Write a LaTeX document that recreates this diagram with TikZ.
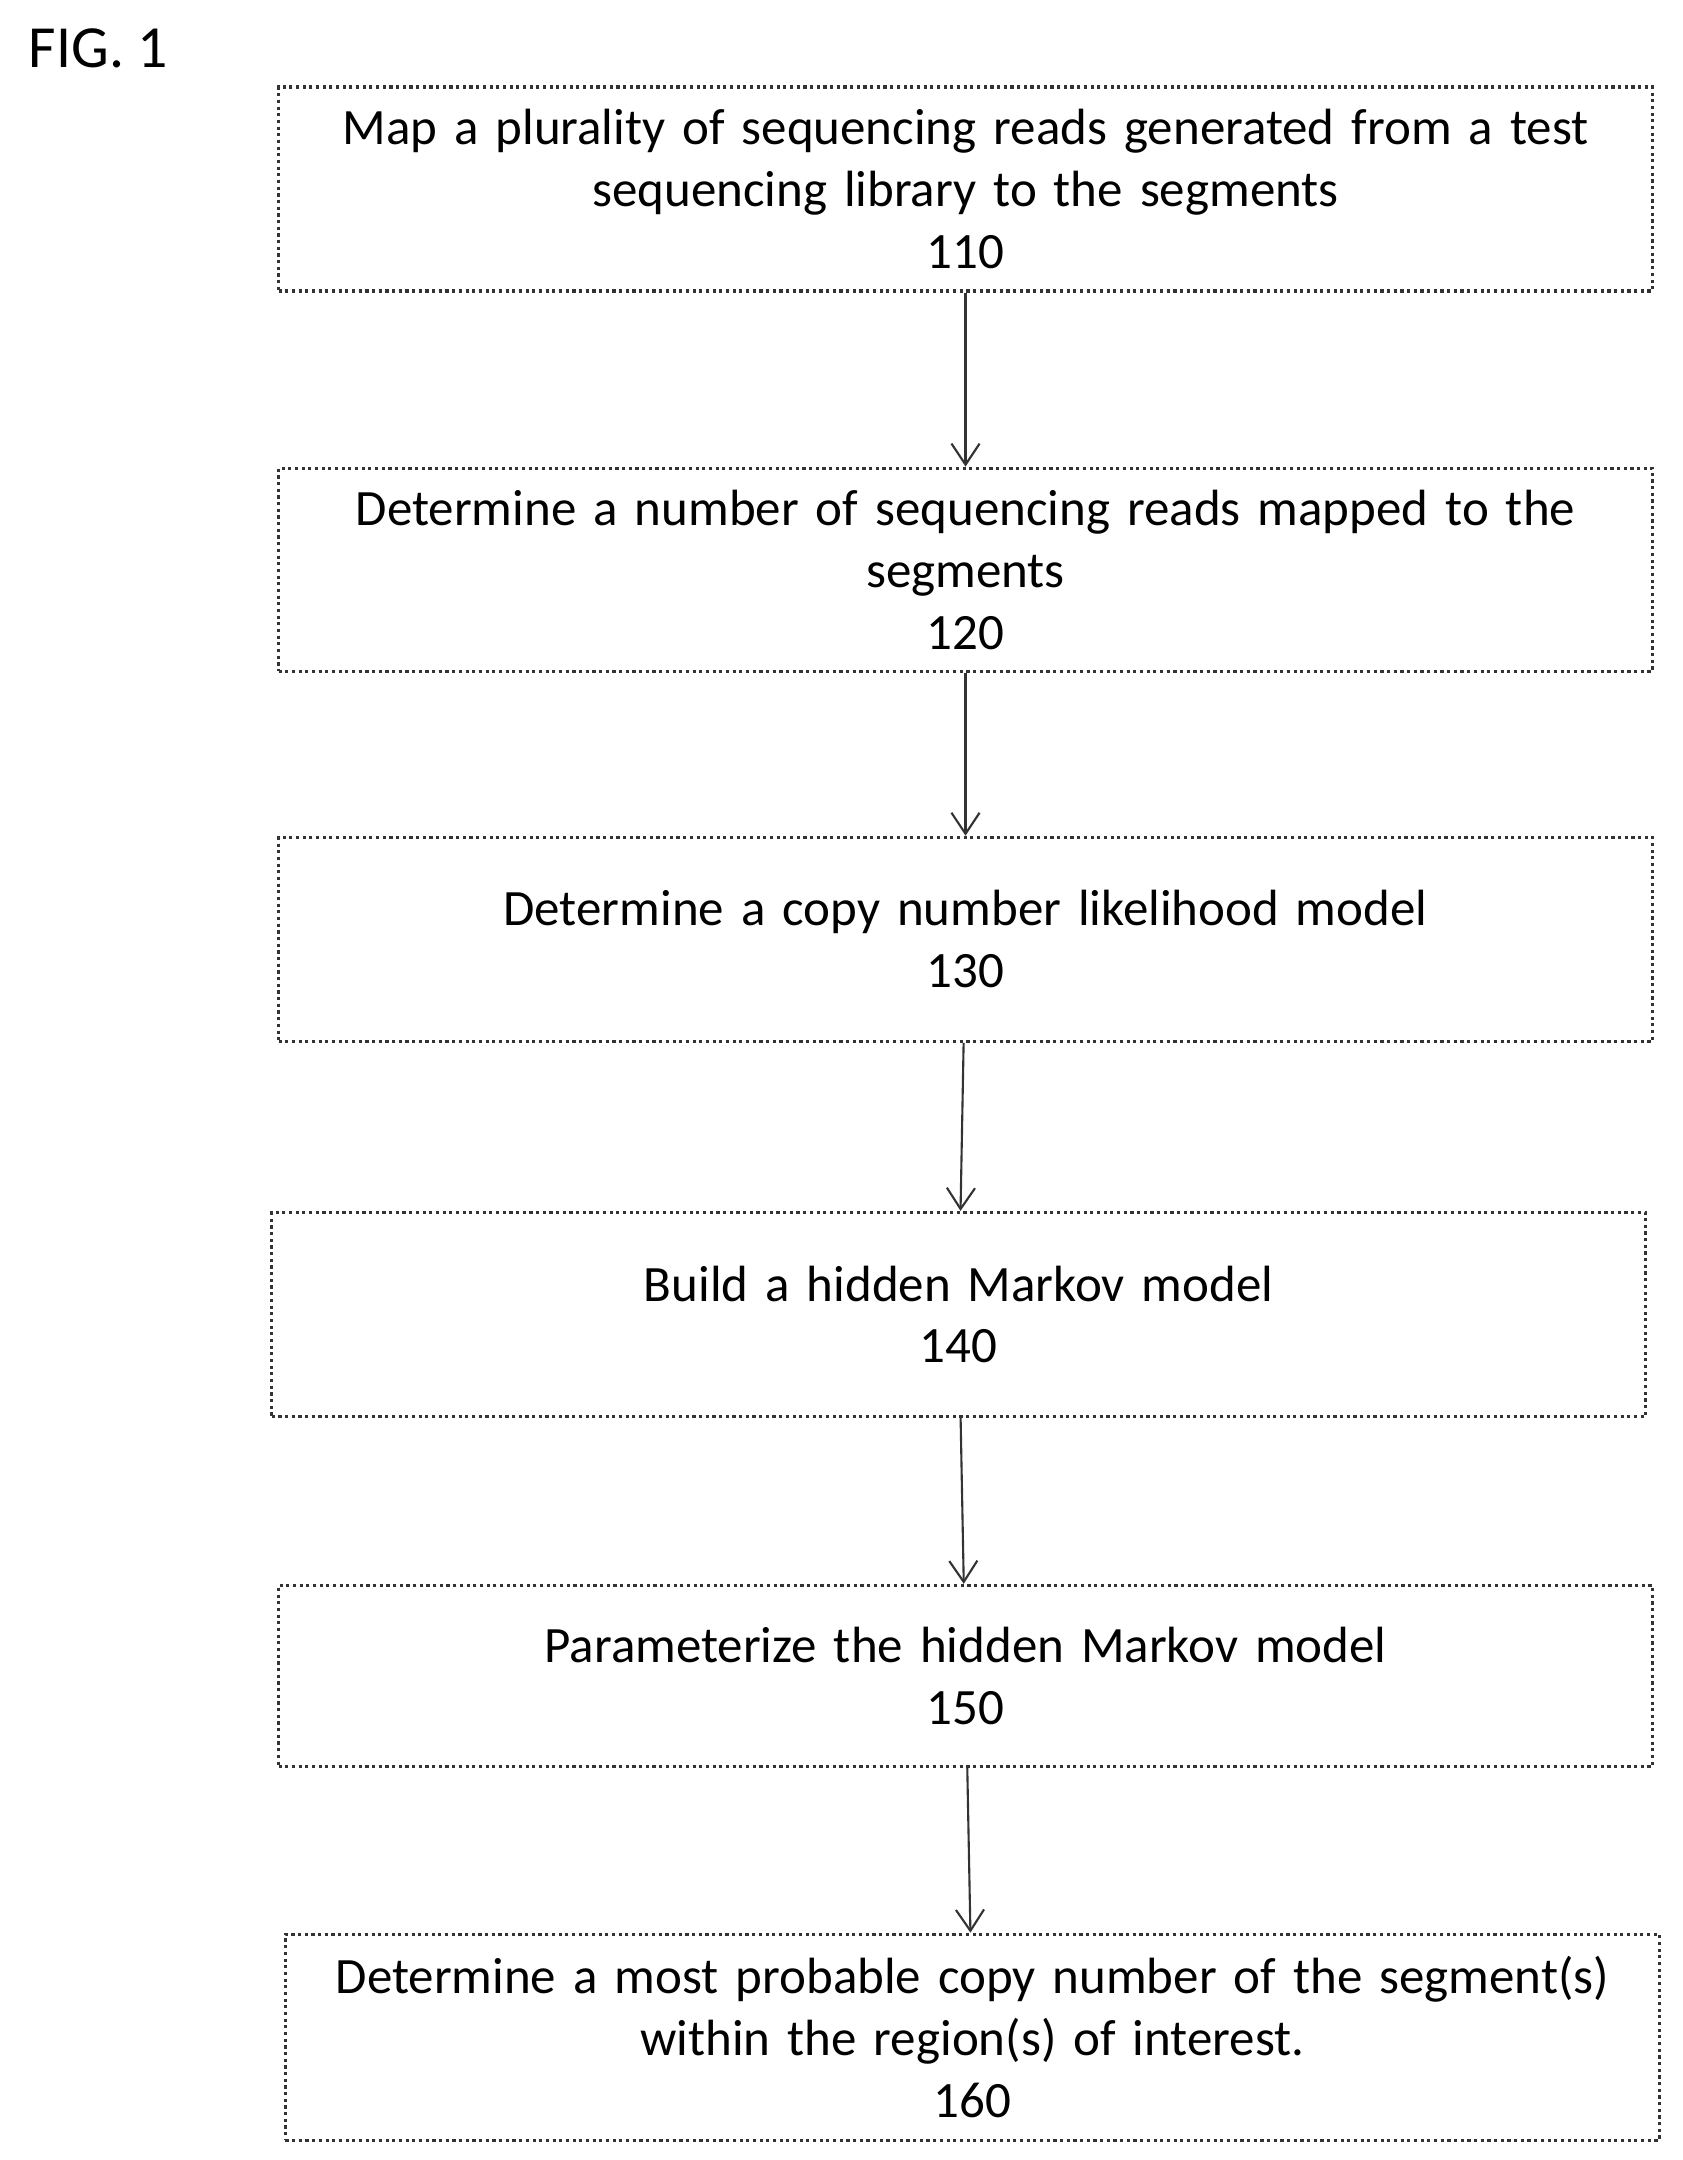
\documentclass[tikz,border=0pt]{standalone}
\usepackage{fontspec}
\setmainfont{Carlito}
\usetikzlibrary{positioning,arrows.meta}

\begin{document}
\begin{tikzpicture}[x=0.0138cm,y=-0.0138cm]
\tikzset{stepbox/.style={draw=black!80,densely dotted,line width=0.9pt,minimum width=13.74cm,
  text width=13.2cm,align=center,font=\fontsize{14.5}{17.6}\selectfont,inner sep=0pt},
  flow/.style={-{Straight Barb[length=6pt,width=8pt]},black!80,line width=0.6pt}}
\useasboundingbox (0,0) rectangle (1220,1566);
\node[font=\fontsize{17}{20}\selectfont,anchor=north west] (fig) at (12,12) {FIG. 1};
\node[stepbox,minimum height=2.04cm] (s110) at (700,137) {Map a plurality of sequencing reads generated from a test\\sequencing library to the segments\\110};
\node[stepbox,minimum height=2.03cm] (s120) at (700,413) {Determine a number of sequencing reads mapped to the\\segments\\120};
\node[stepbox,minimum height=2.04cm] (s130) at (700,681) {Determine a copy number likelihood model\\130};
\node[stepbox,minimum height=2.04cm] (s140) at (695,953) {Build a hidden Markov model\\140};
\node[stepbox,minimum height=1.81cm] (s150) at (700,1215) {Parameterize the hidden Markov model\\150};
\node[stepbox,minimum height=2.06cm] (s160) at (705,1477) {Determine a most probable copy number of the segment(s)\\within the region(s) of interest.\\160};
% connectors
\draw[flow] (s110) -- (s120);
\draw[flow] (s120) -- (s130);
\draw[flow] (s130) -- (s140);
\draw[flow] (s140) -- (s150);
\draw[flow] (s150) -- (s160);
\end{tikzpicture}
\end{document}
